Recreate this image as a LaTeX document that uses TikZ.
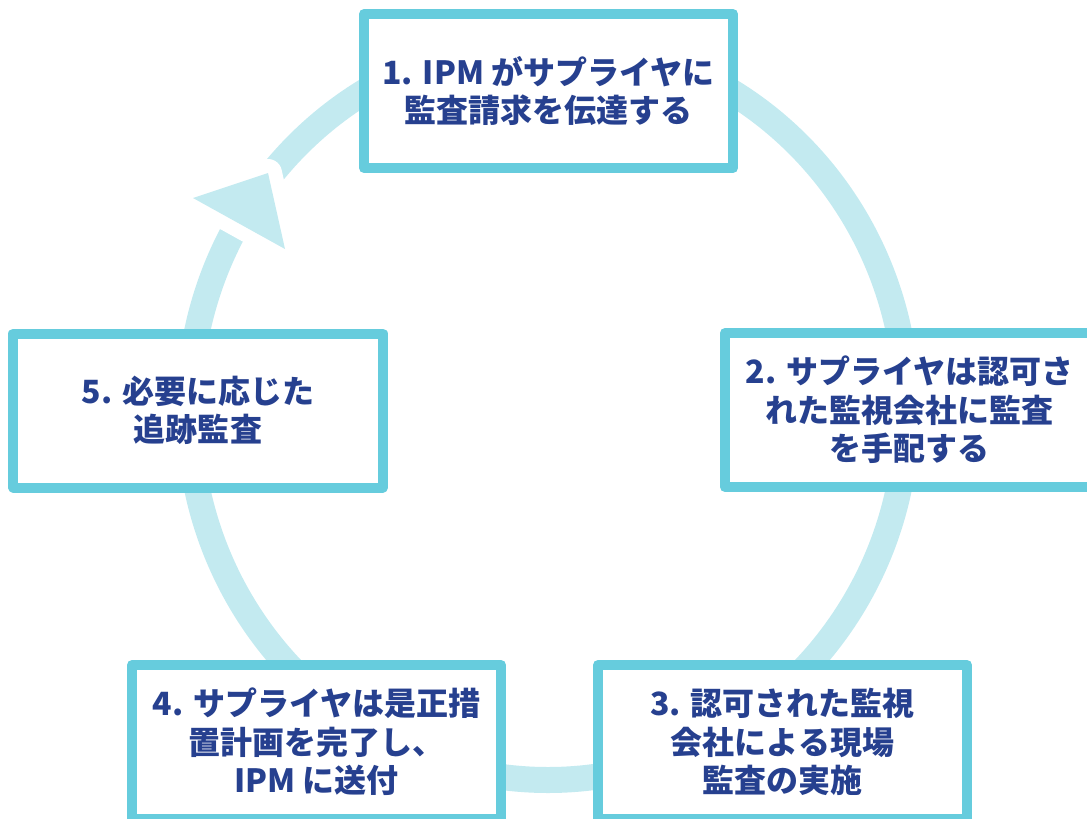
\documentclass[tikz,border=0pt]{standalone}
\usepackage{fontspec}
\setmainfont{Noto Sans CJK JP}
\definecolor{ringc}{RGB}{195,234,240}
\definecolor{boxc}{RGB}{102,204,221}
\definecolor{txtc}{RGB}{38,64,143}
\begin{document}
\begin{tikzpicture}[x=1bp,y=-1bp,
  stepbox/.style={draw=boxc, line width=10bp, fill=white, line join=round,
    minimum width=369bp, minimum height=154bp, inner sep=0pt,
    text=txtc, font=\fontsize{32bp}{38.5bp}\selectfont\bfseries, align=center},
  ring/.style={draw=ringc, line width=26bp}]
\useasboundingbox (0,0) rectangle (1087,819);
\clip (0,0) rectangle (1087,819);
% ring
\draw[ring] (548,410) ellipse [x radius=359bp, y radius=370bp];
% arrow head with white gap
\coordinate (t1) at (193,198);
\coordinate (t2) at (268,173);
\coordinate (t3) at (285,249);
\draw[white, line width=28bp, line join=round] (t1) -- (t2) -- (t3) -- cycle;
\fill[ringc] (t1) -- (t2) -- (t3) -- cycle;
% boxes
\node[stepbox] (s1) at (548.5,91) {1. IPM がサプライヤに\\監査請求を伝達する};
\node[stepbox] (s2) at (909.5,410) {2. サプライヤは認可さ\\れた監視会社に監査\\を手配する};
\node[stepbox] (s3) at (782.5,742) {3. 認可された監視\\会社による現場\\監査の実施};
\node[stepbox] (s4) at (316.5,742) {4. サプライヤは是正措\\置計画を完了し、\\IPM に送付};
\node[stepbox] (s5) at (198,410.5) {5. 必要に応じた\\追跡監査};
\end{tikzpicture}
\end{document}
